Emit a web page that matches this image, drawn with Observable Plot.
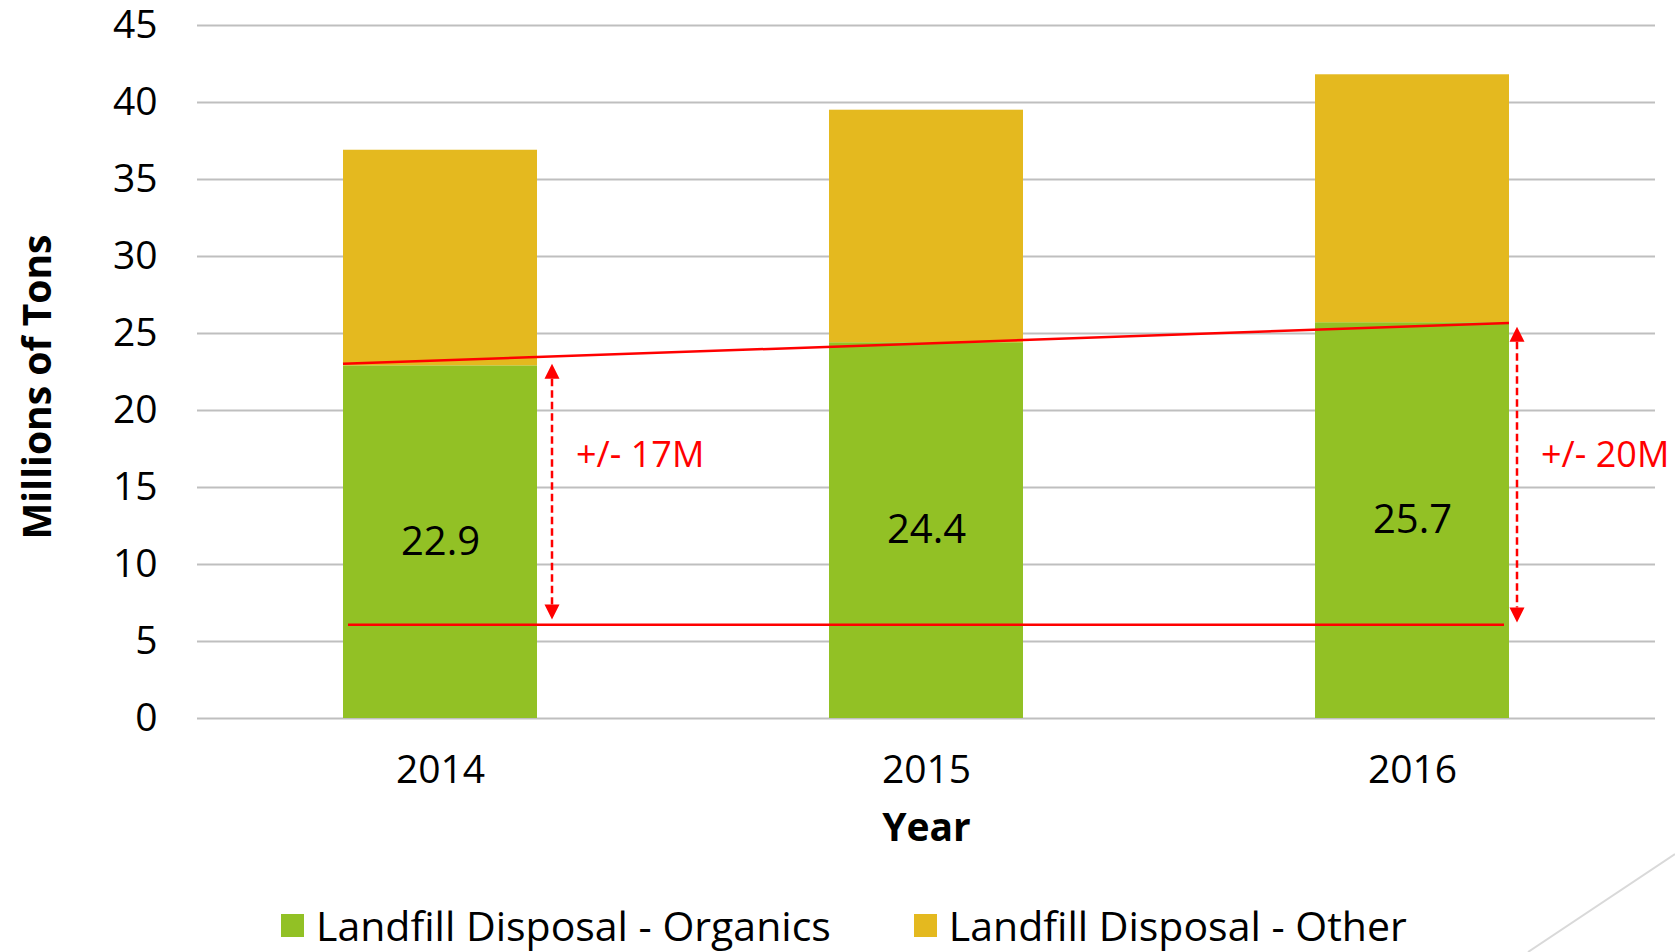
<!DOCTYPE html>
<html><head><meta charset="utf-8">
<script src="https://cdn.jsdelivr.net/npm/d3@7"></script>
<script src="https://cdn.jsdelivr.net/npm/@observablehq/plot@0.6"></script>
<style>
html,body{margin:0;padding:0;background:#fff;}
body{width:1675px;height:952px;position:relative;overflow:hidden;font-family:"Open Sans",sans-serif;}
#chart svg{display:block;}
#legend{position:absolute;left:281px;top:905px;height:40px;display:flex;align-items:center;font-size:41px;color:#000;white-space:nowrap;}
.item{display:flex;align-items:center;margin-right:83px;}
.sw{width:23px;height:23px;margin-right:12px;flex:none;}
#corner{position:absolute;left:1520px;top:850px;pointer-events:none;}
</style></head><body>
<div id="chart"></div>
<div id="legend"></div>
<svg id="corner" width="155" height="102"><line x1="155" y1="4" x2="8" y2="102" stroke="#d9d9d9" stroke-width="2"/></svg>
<script>
// ---- data ----
const years = ["2014", "2015", "2016"];
const organics = [22.9, 24.4, 25.7];
const other = [14.0, 15.1, 16.1];
const seriesNames = ["Landfill Disposal - Organics", "Landfill Disposal - Other"];
const seriesColors = ["#92C125", "#E4B91F"];
const yTicks = [0, 5, 10, 15, 20, 25, 30, 35, 40, 45];
// annotation values
const trendYears = ["2014", "2016"];
const trendValues = [23.0, 25.65];
const baselineYears = ["2014", "2016"];
const baselineValue = [6.05];
const arrowYears = ["2014", "2016"];
const arrowFrom = [6.4, 6.2];
const arrowTo = [23.0, 25.4];
const arrowLabels = ["+/- 17M", "+/- 20M"];
const arrowLabelY = [17.1, 17.1];

// ---- styles ----
const RED = "#FF0000";
const arrowGap = [15, 8];   // px right of bar edge
const labelGap = 24;        // px right of arrow
const headW = 15, headH = 15;

const table = years.flatMap((yr, i) => [
  {year: yr, series: seriesNames[0], value: organics[i]},
  {year: yr, series: seriesNames[1], value: other[i]}
]);
const organicsTable = years.map((yr, i) => ({year: yr, value: organics[i]}));

function annotations(index, scales, values, dimensions, context) {
  const x = scales.x, y = scales.y;
  const bw = x.bandwidth ? x.bandwidth() : 0;
  const g = d3.create("svg:g");
  // trend line (bar edge to bar edge)
  g.append("line")
    .attr("x1", x(trendYears[0])).attr("y1", y(trendValues[0]))
    .attr("x2", x(trendYears[1]) + bw).attr("y2", y(trendValues[1]))
    .attr("stroke", RED).attr("stroke-width", 2.5);
  // baseline
  g.append("line")
    .attr("x1", x(baselineYears[0]) + 5).attr("y1", y(baselineValue[0]))
    .attr("x2", x(baselineYears[1]) + bw - 5).attr("y2", y(baselineValue[0]))
    .attr("stroke", RED).attr("stroke-width", 2.5);
  arrowYears.forEach((yr, i) => {
    const ax = x(yr) + bw + arrowGap[i];
    const yt = y(arrowTo[i]), yb = y(arrowFrom[i]);
    g.append("line")
      .attr("x1", ax).attr("x2", ax)
      .attr("y1", yt + headH).attr("y2", yb - headH)
      .attr("stroke", RED).attr("stroke-width", 2.5)
      .attr("stroke-dasharray", "7.5,4");
    g.append("polygon")
      .attr("points", `${ax},${yt} ${ax - headW / 2},${yt + headH} ${ax + headW / 2},${yt + headH}`)
      .attr("fill", RED);
    g.append("polygon")
      .attr("points", `${ax},${yb} ${ax - headW / 2},${yb - headH} ${ax + headW / 2},${yb - headH}`)
      .attr("fill", RED);
    g.append("text")
      .attr("x", ax + labelGap).attr("y", y(arrowLabelY[i]))
      .attr("dy", "0.35em")
      .attr("text-anchor", "start")
      .attr("fill", RED)
      .attr("font-size", 36)
      .attr("font-family", '"Open Sans", sans-serif')
      .text(arrowLabels[i]);
  });
  return g.node();
}

const chart = Plot.plot({
  width: 1675,
  height: 880,
  marginLeft: 197,
  marginRight: 20,
  marginTop: 25,
  marginBottom: 162,
  style: {fontFamily: '"Open Sans", sans-serif', fontSize: "39px", color: "#000", background: "#fff", overflow: "visible"},
  x: {domain: years, paddingInner: 0.6, paddingOuter: 0.3, label: null},
  y: {domain: [0, 45], label: null},
  color: {domain: seriesNames, range: seriesColors},
  marks: [
    Plot.ruleY(yTicks, {stroke: "#BFBFBF", strokeWidth: 2}),
    Plot.barY(table, {x: "year", y: "value", fill: "series"}),
    Plot.text(organicsTable, {x: "year", y: d => d.value / 2, text: d => d.value.toFixed(1), fontSize: 40, fill: "#000"}),
    annotations,
    Plot.axisY({ticks: yTicks, tickSize: 0, tickPadding: 40, fontSize: 39, label: null}),
    Plot.axisX({tickSize: 0, tickPadding: 37, fontSize: 39, label: null}),
    Plot.text(["Millions of Tons"], {text: d => d, frameAnchor: "left", textAnchor: "middle", lineAnchor: "middle", rotate: -90, dx: -159, dy: 15, fontSize: 39, fontWeight: "bold", fill: "#000"}),
    Plot.text(["Year"], {text: d => d, frameAnchor: "bottom", textAnchor: "middle", lineAnchor: "middle", dy: 110, fontSize: 39, fontWeight: "bold", fill: "#000"})
  ]
});
document.getElementById("chart").append(chart);

// legend
const legend = document.getElementById("legend");
seriesNames.forEach((name, i) => {
  const item = document.createElement("div");
  item.className = "item";
  const sw = document.createElement("div");
  sw.className = "sw";
  sw.style.background = seriesColors[i];
  const label = document.createElement("span");
  label.textContent = name;
  item.append(sw, label);
  legend.append(item);
});
</script>
</body></html>
